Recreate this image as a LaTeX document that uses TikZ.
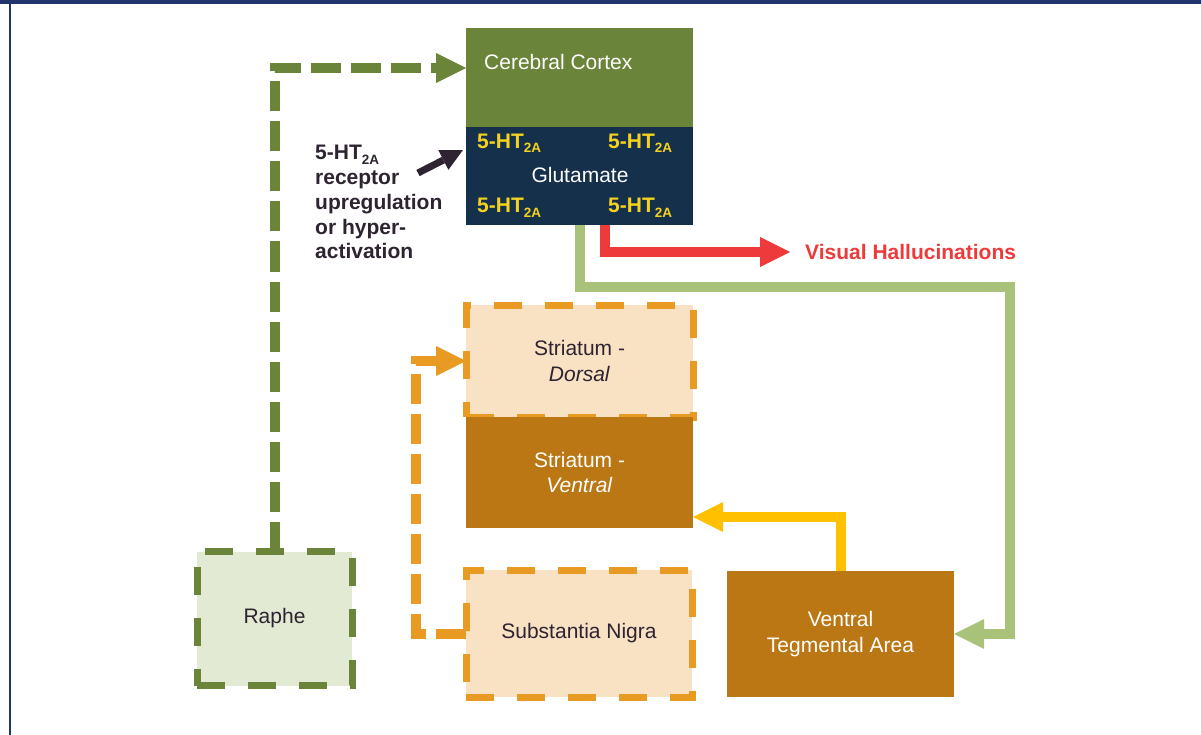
\documentclass[tikz,border=0pt]{standalone}
\usepackage{fontspec}
\setmainfont{Liberation Sans}
\usetikzlibrary{arrows.meta,calc}
\definecolor{framec}{HTML}{21346B}
\definecolor{cortexg}{HTML}{6A843A}
\definecolor{glutnavy}{HTML}{15304B}
\definecolor{raphefill}{HTML}{E2EAD4}
\definecolor{orangeb}{HTML}{E89A23}
\definecolor{peach}{HTML}{F9E2C4}
\definecolor{brown}{HTML}{BA7714}
\definecolor{yellowa}{HTML}{FFC000}
\definecolor{lightg}{HTML}{A8C27A}
\definecolor{reda}{HTML}{EE3A3A}
\definecolor{txtdark}{HTML}{2E2331}
\definecolor{htyellow}{HTML}{F4D21F}
\newcommand\htA{5-HT\raisebox{-4.5pt}{\fontsize{13.5}{13.5}\selectfont 2A}}
\begin{document}
\begin{tikzpicture}[x=1pt,y=-1pt,
  font=\fontsize{21}{25.5}\selectfont,
  regionbox/.style={rectangle, inner sep=0pt, outer sep=0pt, align=center, text=txtdark},
  solidbox/.style={regionbox, fill=brown, text=white, minimum width=227pt},
  dashbox/.style={regionbox, draw, line width=7pt, dash pattern=on 28pt off 23pt},
  orangebox/.style={dashbox, draw=orangeb, fill=peach},
  tipbig/.style={-{Triangle[length=30pt,width=30pt,line width=0pt]}},
  conn/.style={line width=10pt, tipbig},
  dconn/.style={conn, dash pattern=on 30pt off 10pt},
  httext/.style={anchor=base west, inner sep=0pt, text=htyellow, font=\fontsize{21}{25}\selectfont\bfseries}
]
\useasboundingbox (0,0) rectangle (1201,735);
% frame
\fill[framec] (0,0) rectangle (1201,4.5);
\fill[framec] (8.5,0) rectangle (11,735);

% boxes
\node[regionbox, fill=cortexg, minimum width=227pt, minimum height=99pt] (cortex) at (579.5,77.5) {};
\node[regionbox, fill=glutnavy, minimum width=227pt, minimum height=98pt] (glut) at (579.5,176) {};
\node[anchor=base west, inner sep=0pt, text=white] (cctext) at (484,70) {Cerebral Cortex};
\node[anchor=base, inner sep=0pt, text=white] (gtext) at (580,182.7) {Glutamate};
\node[httext] (ht1) at (477,148.3) {\htA};
\node[httext] (ht2) at (608,148.3) {\htA};
\node[httext] (ht3) at (477,213) {\htA};
\node[httext] (ht4) at (608,213) {\htA};

\node[dashbox, draw=cortexg, fill=raphefill, minimum width=155pt, minimum height=134pt] (raphe) at (274.5,618.5) {Raphe};
\node[orangebox, minimum width=227pt, minimum height=112pt] (dorsal) at (579.5,361) {Striatum -\\\textit{Dorsal}};
\node[solidbox, minimum height=111pt] (ventral) at (579.5,472.5) {Striatum -\\\textit{Ventral}};
\node[orangebox, minimum width=226pt, minimum height=127pt] (sn) at (579,633.5) {Substantia Nigra};
\node[solidbox, minimum height=126pt] (vta) at (840.5,634) {Ventral\\Tegmental Area};

% label
\node[anchor=north west, inner sep=0pt, align=left, text=txtdark,
      font=\fontsize{21}{24.8}\selectfont\bfseries] (lbl) at (315,145)
      {\htA\\receptor\\upregulation\\or hyper-\\activation};
\node[anchor=west, inner xsep=15pt, inner ysep=0pt, text=reda,
      font=\fontsize{21}{25}\selectfont\bfseries] (vh) at (790,252) {Visual Hallucinations};

% connectors
\coordinate (arrstart) at (418,173);
\draw[line width=7pt, txtdark, -{Triangle[length=22pt,width=22pt,line width=0pt]}]
  (arrstart) -- ($(glut.north west)+(-3,23)$);
\draw[dconn, cortexg] (raphe.north) |- ($(cortex.north west)+(0,40)$);
\draw[dconn, orangeb] (sn.west) -- ++(-50,0) |- (dorsal.west);
\draw[conn, reda] ($(glut.south west)+(139,0)$) |- (vh.west);
\coordinate (gturn) at (1010,287);
\draw[conn, lightg] ($(glut.south west)+(114,0)$) |- (gturn) |- (vta.east);
\draw[conn, yellowa] (vta.north) |- ($(ventral.south east)+(0,-11)$);
\end{tikzpicture}
\end{document}
